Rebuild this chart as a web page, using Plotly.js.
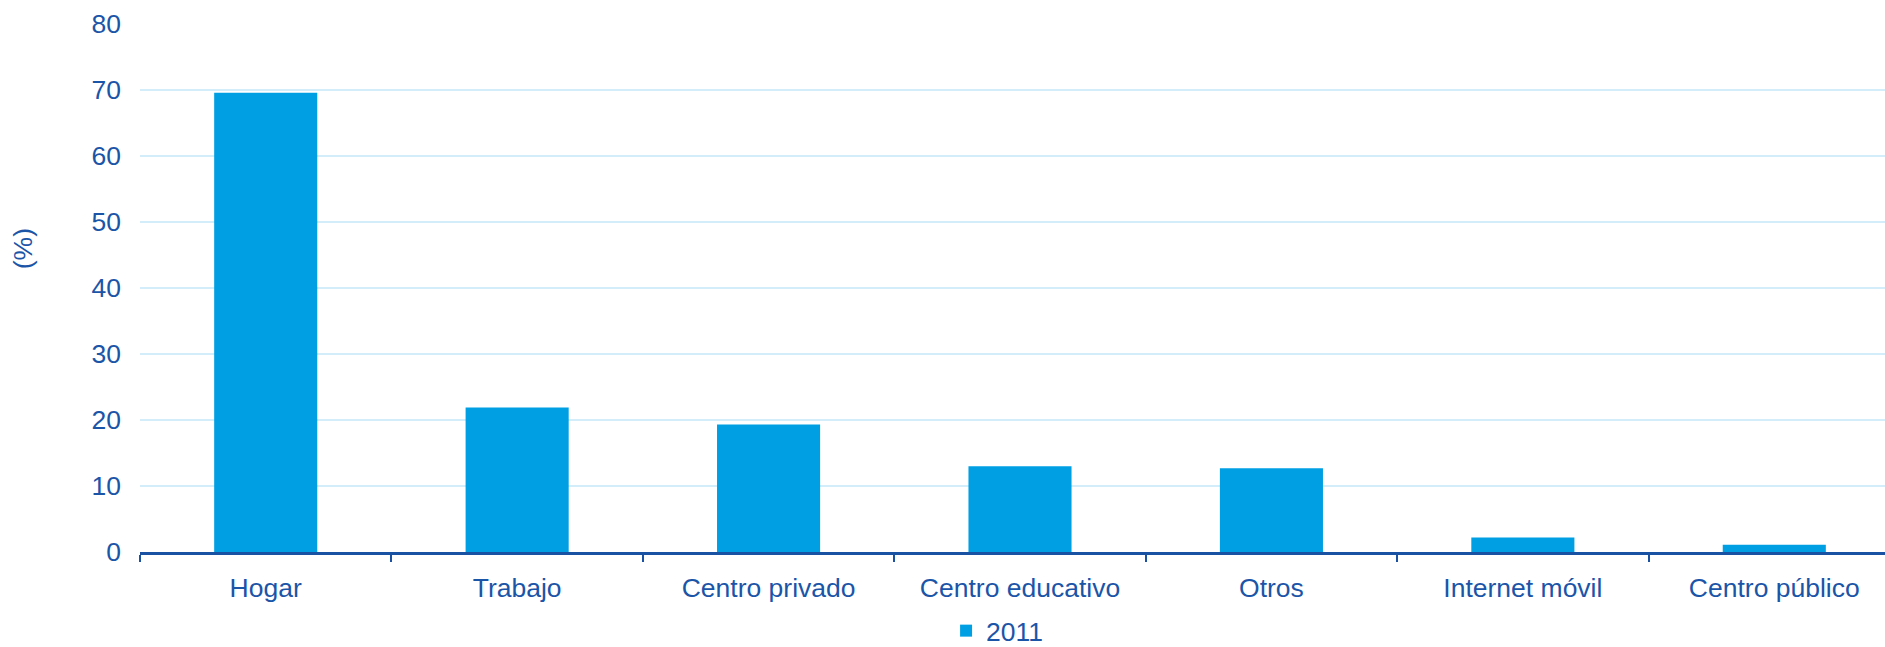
<!DOCTYPE html>
<html>
<head>
<meta charset="utf-8">
<script src="https://cdn.plot.ly/plotly-3.0.1.min.js"></script>
<style>
html, body { margin: 0; padding: 0; overflow: hidden; background: #fff; }
#chart { width: 1900px; height: 647px; }
</style>
</head>
<body>
<div id="chart"></div>
<script>
const categories = ["Hogar", "Trabajo", "Centro privado", "Centro educativo", "Otros", "Internet móvil", "Centro público"];
const values2011 = [69.6, 21.9, 19.3, 13.0, 12.7, 2.2, 1.1];
const seriesName = "2011";
const yTicks = [0, 10, 20, 30, 40, 50, 60, 70, 80];

const textColor = "#1B55A8";
const barColor = "#009FE3";
const gridColor = "#D3EDFA";
const axisColor = "#1A52A3";
const fontFamily = "Liberation Sans, Arial, sans-serif";
const fs = 26.5;

const data = [{
  type: "bar",
  x: categories,
  y: values2011,
  name: seriesName,
  marker: { color: barColor },
  hoverinfo: "x+y"
}];

const layout = {
  width: 1900,
  height: 647,
  margin: { l: 140, r: 0, t: 24, b: 95, autoexpand: false },
  paper_bgcolor: "#ffffff",
  plot_bgcolor: "#ffffff",
  font: { family: fontFamily, size: fs, color: textColor },
  bargap: 0.59,
  showlegend: true,
  legend: {
    orientation: "h",
    x: 0.458, xanchor: "left",
    y: -0.104, yanchor: "top",
    font: { family: fontFamily, size: fs, color: textColor },
    bgcolor: "rgba(0,0,0,0)",
    itemclick: false
  },
  xaxis: {
    type: "category",
    tickson: "boundaries",
    ticks: "outside",
    ticklen: 7,
    tickwidth: 2,
    tickcolor: axisColor,
    showline: true,
    linecolor: axisColor,
    linewidth: 2.5,
    showgrid: false,
    ticklabelstandoff: 10,
    tickfont: { family: fontFamily, size: fs, color: textColor },
    automargin: false
  },
  yaxis: {
    range: [0, 80],
    tickvals: yTicks,
    ticktext: yTicks.map(String),
    showgrid: true,
    gridcolor: gridColor,
    gridwidth: 1.5,
    zeroline: false,
    showline: false,
    ticks: "",
    ticklabelstandoff: 18,
    tickfont: { family: fontFamily, size: fs, color: textColor },
    automargin: false
  },
  annotations: [{
    text: "(%)",
    xref: "paper", yref: "paper",
    x: -0.066, y: 0.575,
    xanchor: "center", yanchor: "middle",
    textangle: -90,
    showarrow: false,
    font: { family: fontFamily, size: fs, color: textColor }
  }]
};

Plotly.newPlot("chart", data, layout, { displayModeBar: false });
</script>
</body>
</html>
